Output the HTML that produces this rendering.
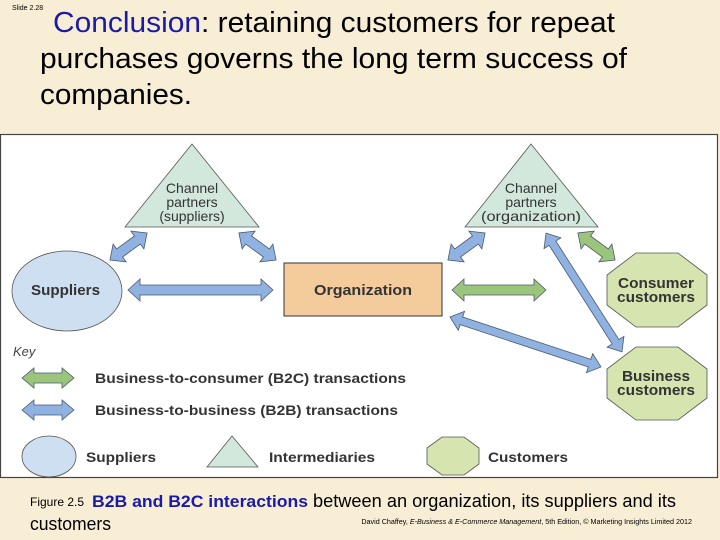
<!DOCTYPE html>
<html><head><meta charset="utf-8"><style>
html,body{margin:0;padding:0;background:#f8eed6;}
body{width:720px;height:540px;overflow:hidden;position:relative;font-family:"Liberation Sans",Arial,sans-serif;}
</style></head><body>
<svg width="720" height="540" viewBox="0 0 720 540" xmlns="http://www.w3.org/2000/svg" style="position:absolute;left:0;top:0;font-family:'Liberation Sans',Arial,sans-serif">
<defs>
<g id="a46"><polygon points="-23,0 -11,-11 -11,-5 11,-5 11,-11 23,0 11,11 11,5 -11,5 -11,11"/></g>
</defs>
<rect width="720" height="540" fill="#f8eed6"/>
<text x="12" y="10" font-size="7" fill="#000">Slide 2.28</text>
<text font-size="29" fill="#000" x="53" y="32" textLength="562" lengthAdjust="spacingAndGlyphs"><tspan fill="#1a1aa8">Conclusion</tspan>: retaining customers for repeat</text>
<text font-size="29" fill="#000" x="40" y="68" textLength="587" lengthAdjust="spacingAndGlyphs">purchases governs the long term success of</text>
<text font-size="29" fill="#000" x="40" y="104" textLength="152" lengthAdjust="spacingAndGlyphs">companies.</text>

<rect x="0.5" y="134.5" width="717" height="343" fill="#fff" stroke="#444" stroke-width="1.2"/>

<!-- triangles -->
<polygon points="192,144 125,227 259,227" fill="#d3e8dc" stroke="#555" stroke-width="0.8"/>
<polygon points="531,144 465,227 598,227" fill="#d3e8dc" stroke="#555" stroke-width="0.8"/>
<g font-size="14" fill="#333" text-anchor="middle">
<text x="192" y="193">Channel</text><text x="192" y="207">partners</text><text x="192" y="221">(suppliers)</text>
<text x="531" y="193">Channel</text><text x="531" y="207">partners</text><text x="531" y="221" textLength="100" lengthAdjust="spacingAndGlyphs">(organization)</text>
</g>

<ellipse cx="67" cy="291" rx="55" ry="40" fill="#cfdff2" stroke="#555" stroke-width="0.8"/>
<text x="31" y="295" font-size="14.5" fill="#333" font-weight="bold" textLength="69" lengthAdjust="spacingAndGlyphs">Suppliers</text>

<rect x="284" y="263" width="158" height="53" fill="#f4cc9c" stroke="#333" stroke-width="1"/>
<text x="314" y="295" font-size="15" fill="#333" font-weight="bold" textLength="98" lengthAdjust="spacingAndGlyphs">Organization</text>

<polygon points="636,253 678,253 707,275 707,305 678,327 636,327 607,305 607,275" fill="#d6e4b0" stroke="#555" stroke-width="0.8"/>
<polygon points="636,347 678,347 707,369 707,398 678,420 636,420 607,398 607,369" fill="#d6e4b0" stroke="#555" stroke-width="0.8"/>
<g font-size="14.5" fill="#333" text-anchor="middle" font-weight="bold">
<text x="656" y="288" textLength="76" lengthAdjust="spacingAndGlyphs">Consumer</text><text x="656" y="302" textLength="78" lengthAdjust="spacingAndGlyphs">customers</text>
<text x="656" y="381" textLength="68" lengthAdjust="spacingAndGlyphs">Business</text><text x="656" y="395" textLength="78" lengthAdjust="spacingAndGlyphs">customers</text>
</g>

<!-- arrows -->
<g stroke="#4a5870" stroke-width="0.8">
<g fill="#8fb2e0">
<use href="#a46" transform="translate(128.5,246.5) rotate(-36.1)"/>
<use href="#a46" transform="translate(257.5,246.5) rotate(36.1)"/>
<use href="#a46" transform="translate(466.5,246.5) rotate(-36.1)"/>
<polygon transform="translate(200.5,290)" points="-72.5,0 -60.5,-11 -60.5,-5 60.5,-5 60.5,-11 72.5,0 60.5,11 60.5,5 -60.5,5 -60.5,11"/>
<polygon transform="translate(584,292.5) rotate(57.4)" points="-70.5,0 -58.5,-10 -58.5,-4 58.5,-4 58.5,-10 70.5,0 58.5,10 58.5,4 -58.5,4 -58.5,10"/>
<polygon transform="translate(525.5,342) rotate(18.3)" points="-79.5,0 -67.5,-10 -67.5,-4 67.5,-4 67.5,-10 79.5,0 67.5,10 67.5,4 -67.5,4 -67.5,10"/>
<polygon transform="translate(48,410)" points="-26,0 -14,-10 -14,-5 14,-5 14,-10 26,0 14,10 14,5 -14,5 -14,10"/>
</g>
<g fill="#9cc57c">
<use href="#a46" transform="translate(596.5,246.5) rotate(36.1)"/>
<polygon transform="translate(499,290)" points="-47,0 -35,-11 -35,-5 35,-5 35,-11 47,0 35,11 35,5 -35,5 -35,11"/>
<polygon transform="translate(48,378)" points="-26,0 -14,-10 -14,-5 14,-5 14,-10 26,0 14,10 14,5 -14,5 -14,10"/>
</g>
</g>

<!-- key -->
<text x="13" y="356" font-size="13" font-style="italic" fill="#444">Key</text>
<g font-size="13.5" fill="#333" font-weight="bold" lengthAdjust="spacingAndGlyphs">
<text x="95" y="383" textLength="311" lengthAdjust="spacingAndGlyphs">Business-to-consumer (B2C) transactions</text>
<text x="95" y="415" textLength="303" lengthAdjust="spacingAndGlyphs">Business-to-business (B2B) transactions</text>
<text x="86" y="462" textLength="70" lengthAdjust="spacingAndGlyphs">Suppliers</text>
<text x="269" y="462" textLength="106" lengthAdjust="spacingAndGlyphs">Intermediaries</text>
<text x="488" y="462" textLength="80" lengthAdjust="spacingAndGlyphs">Customers</text>
</g>
<ellipse cx="49" cy="456.5" rx="27" ry="20.5" fill="#cfdff2" stroke="#555" stroke-width="0.8"/>
<polygon points="232,436 207,467 258,467" fill="#d3e8dc" stroke="#555" stroke-width="0.8"/>
<polygon points="442,437 464,437 479,448 479,464 464,475 442,475 427,464 427,448" fill="#d6e4b0" stroke="#555" stroke-width="0.8"/>

<!-- caption -->
<text x="30" y="506" font-size="12" fill="#000" textLength="54" lengthAdjust="spacingAndGlyphs">Figure 2.5</text>
<text x="92" y="507" font-size="17" font-weight="bold" fill="#1a1aa8" textLength="216" lengthAdjust="spacingAndGlyphs">B2B and B2C interactions</text>
<text x="313" y="507" font-size="18" fill="#000" textLength="363" lengthAdjust="spacingAndGlyphs">between an organization, its suppliers and its</text>
<text x="30" y="530" font-size="18" fill="#000" textLength="81" lengthAdjust="spacingAndGlyphs">customers</text>
<text x="692" y="524" font-size="7.2" fill="#000" text-anchor="end">David Chaffey, <tspan font-style="italic">E-Business &amp; E-Commerce Management</tspan>, 5th Edition, © Marketing Insights Limited 2012</text>
</svg>
</body></html>
